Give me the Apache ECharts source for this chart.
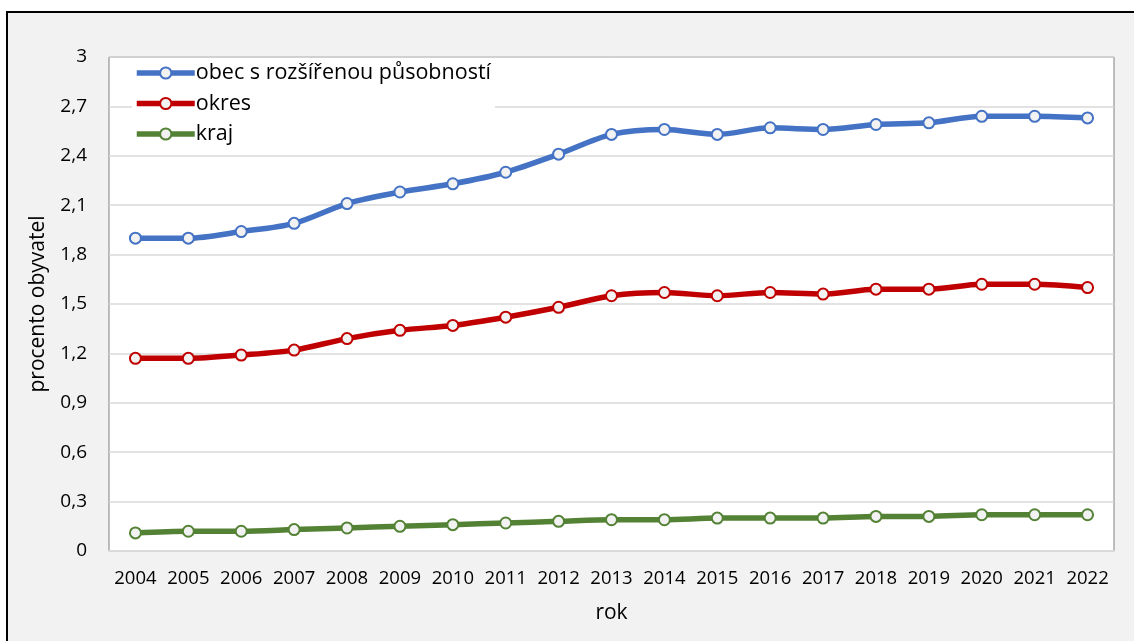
<!DOCTYPE html>
<html>
<head>
<meta charset="utf-8">
<script src="https://cdn.jsdelivr.net/npm/echarts@6/dist/echarts.min.js"></script>
<style>
html,body{margin:0;padding:0;background:#fff;}
#c{width:1134px;height:641px;}
</style>
</head>
<body>
<div id="c"></div>
<script>
const years = ['2004','2005','2006','2007','2008','2009','2010','2011','2012','2013','2014','2015','2016','2017','2018','2019','2020','2021','2022'];
const seriesNames = ['obec s rozšířenou působností','okres','kraj'];
const orp = [1.90,1.90,1.94,1.99,2.11,2.18,2.23,2.30,2.41,2.53,2.56,2.53,2.57,2.56,2.59,2.60,2.64,2.64,2.63];
const okres = [1.17,1.17,1.19,1.22,1.29,1.34,1.37,1.42,1.48,1.55,1.57,1.55,1.57,1.56,1.59,1.59,1.62,1.62,1.60];
const kraj = [0.11,0.12,0.12,0.13,0.14,0.15,0.16,0.17,0.18,0.19,0.19,0.20,0.20,0.20,0.21,0.21,0.22,0.22,0.22];
const yTicks = {min:0, max:3, interval:0.3};
const colors = ['#4472C4','#C00000','#548235'];
const font = "'Open Sans', 'Liberation Sans', sans-serif";

const chart = echarts.init(document.getElementById('c'));
function mk(name, data, color){
  return {
    name: name, type:'line', data: data, smooth:0.3,
    symbol:'circle', symbolSize:11, showSymbol:true,
    lineStyle:{color:color, width:5.5},
    itemStyle:{color:'#f2f2f2', borderColor:color, borderWidth:2},
    emphasis:{disabled:true}, z:3
  };
}
chart.setOption({
  animation:false,
  textStyle:{fontFamily:font},
  graphic:[{type:'rect', z:-10, shape:{x:7,y:12,width:1200,height:700},
    style:{fill:'#f2f2f2', stroke:'#000', lineWidth:2}}],
  grid:{left:109, top:57, right:20, bottom:90, show:true, backgroundColor:'#fff', borderColor:'#808080', borderWidth:1},
  legend:{
    left:132, top:61, orient:'vertical', backgroundColor:'#fff',
    padding:[1,4,2,2], itemWidth:58, itemHeight:14, itemGap:8.5,
    lineStyle:{width:5.5},
    textStyle:{fontSize:21.5, lineHeight:22, color:'#000', fontFamily:font, padding:[0,0,0,-4]},
    data: seriesNames
  },
  xAxis:{
    type:'category', data:years, boundaryGap:true,
    axisLine:{lineStyle:{color:'#d9d9d9', width:2}},
    axisTick:{show:false},
    axisLabel:{fontSize:18.5, color:'#000', margin:18, fontFamily:font, interval:0, hideOverlap:false},
    name:'rok', nameLocation:'middle', nameGap:52,
    nameTextStyle:{fontSize:21, color:'#000', fontFamily:font}
  },
  yAxis:{
    type:'value', min:yTicks.min, max:yTicks.max, interval:yTicks.interval,
    axisLine:{show:false}, axisTick:{show:false},
    splitLine:{lineStyle:{color:'#d9d9d9', width:1.5}},
    axisLabel:{fontSize:19, color:'#000', margin:22, fontFamily:font,
      formatter:v=>String(Number(v.toFixed(1))).replace('.',',')},
    name:'procento obyvatel', nameLocation:'middle', nameGap:60,
    nameTextStyle:{fontSize:21, color:'#000', fontFamily:font}
  },
  series:[mk(seriesNames[0], orp, colors[0]), mk(seriesNames[1], okres, colors[1]), mk(seriesNames[2], kraj, colors[2])]
});
</script>
</body>
</html>
